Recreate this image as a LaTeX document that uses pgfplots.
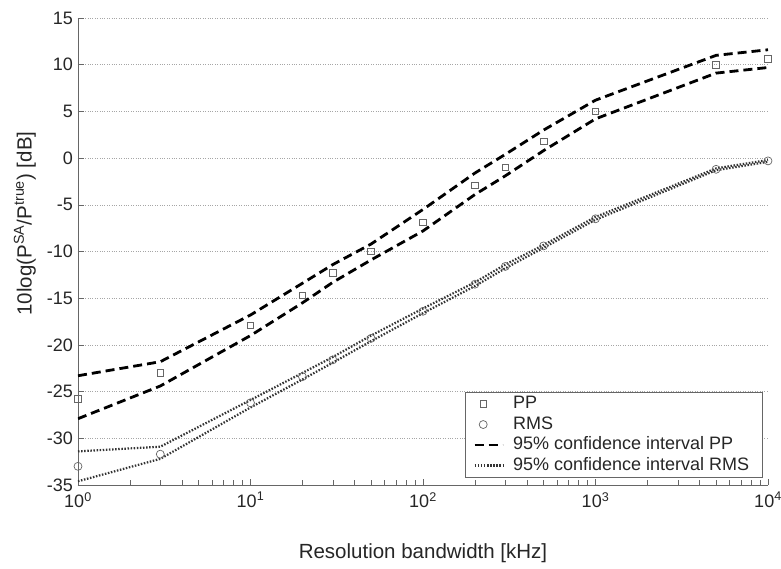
\documentclass[border=0pt]{standalone}
\usepackage{fontspec}
\setmainfont{Liberation Sans}
\usepackage{pgfplots}
\pgfplotsset{compat=1.18}
\newcommand\myfont{\fontsize{18}{21}\selectfont}
\newcommand\labfont{\fontsize{20.5}{24}\selectfont}
\pgfplotsset{lineleg/.style={legend image code/.code={\draw[##1] (0pt,0pt) -- (28pt,0pt);}}}
\pgfplotstableread{
x pp rms ppu ppl rmsu rmsl
1 -25.8 -33.0 -23.3 -27.9 -31.4 -34.6
3 -23.0 -31.7 -21.8 -24.4 -30.9 -32.2
10 -17.9 -26.2 -16.8 -19.0 -25.9 -26.7
20 -14.7 -23.4 -13.4 -15.5 -23.0 -23.7
30 -12.3 -21.6 -11.4 -13.3 -21.3 -21.9
50 -10.0 -19.3 -9.2 -10.9 -19.0 -19.6
100 -6.9 -16.4 -5.5 -7.8 -16.1 -16.6
200 -2.9 -13.5 -1.6 -3.9 -13.3 -13.7
300 -1.0 -11.6 0.4 -1.9 -11.4 -11.8
500 1.8 -9.4 3.0 0.8 -9.3 -9.6
1000 5.0 -6.5 6.2 4.2 -6.3 -6.6
5000 10.0 -1.2 11.0 9.1 -1.1 -1.3
10000 10.6 -0.3 11.6 9.7 -0.2 -0.4
}\data
\begin{document}
\myfont
\begin{tikzpicture}[font=\myfont]
\useasboundingbox (-78pt,-83pt) rectangle (703pt,485pt);
\begin{axis}[
  scale only axis, width=690pt, height=467pt,
  xmode=log, xmin=1, xmax=10000, ymin=-35, ymax=15,
  ytick={-35,-30,...,15},
  xtick={1,10,100,1000,10000},
  xticklabels={10\textsuperscript{0},10\textsuperscript{1},10\textsuperscript{2},10\textsuperscript{3},10\textsuperscript{4}},
  minor xtick={2,3,4,5,6,7,8,9,20,30,40,50,60,70,80,90,200,300,400,500,600,700,800,900,2000,3000,4000,5000,6000,7000,8000,9000},
  axis lines=left,
  axis line style={-, draw=gray!80!black, line width=0.8pt},
  tick style={draw=gray!80!black, line width=0.6pt},
  tick align=inside,
  major tick length=6pt, minor tick length=5pt,
  ymajorgrids, grid style={dotted, gray!70, line width=0.6pt},
  /pgf/number format/assume math mode=true,
  ticklabel style={font=\myfont, text=black!85},
  yticklabel style={xshift=1pt},
  xticklabel style={yshift=-1pt},
  xlabel={Resolution bandwidth [kHz]},
  ylabel={10log(P\textsuperscript{SA}/P\textsuperscript{true}) [dB]},
  x label style={at={(axis description cs:0.5,-0.146)}, anchor=center, text=black!85, font=\labfont},
  y label style={at={(axis description cs:-0.077,0.56)}, anchor=center, text=black!85, font=\labfont},
  legend style={at={(rel axis cs:0.992,0.016)}, anchor=south east, draw=gray!80!black, line width=0.6pt, font=\myfont, text=black!85, row sep=1.5pt, inner xsep=8pt, inner ysep=2.2pt,
    nodes={inner xsep=5pt, inner ysep=1pt, text height=13pt, text depth=4pt},
    /tikz/every odd column/.append style={column sep=4pt}},
  legend cell align=left,
]
\addplot[only marks, mark=square, mark size=3.3pt, mark options={draw=gray!80!black, line width=0.7pt}] table[x=x, y=pp] {\data};
\addlegendentry{PP}
\addplot[only marks, mark=o, mark size=4pt, mark options={draw=gray!80!black, line width=0.7pt}] table[x=x, y=rms] {\data};
\addlegendentry{RMS}
\addplot[black, line width=2.8pt, dash pattern=on 9pt off 5pt, lineleg] table[x=x, y=ppu] {\data};
\addlegendentry{95\% confidence interval PP}
\addplot[black!80, line width=2.2pt, dash pattern=on 1.5pt off 1.6pt, lineleg] table[x=x, y=rmsu] {\data};
\addlegendentry{95\% confidence interval RMS}
\addplot[black, line width=2.8pt, dash pattern=on 9pt off 5pt, forget plot] table[x=x, y=ppl] {\data};
\addplot[black!80, line width=2.2pt, dash pattern=on 1.5pt off 1.6pt, forget plot] table[x=x, y=rmsl] {\data};
\end{axis}
\end{tikzpicture}
\end{document}
